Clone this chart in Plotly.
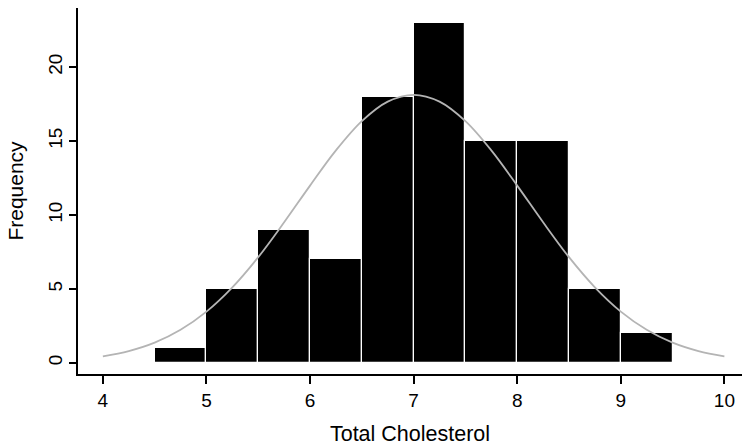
import plotly.graph_objects as go

# Histogram bins (left edges), width 0.5
bin_left = [4.5, 5.0, 5.5, 6.0, 6.5, 7.0, 7.5, 8.0, 8.5, 9.0]
counts = [1, 5, 9, 7, 18, 23, 15, 15, 5, 2]
bin_width = 0.5

# Overlaid normal curve
curve_x = [4.0, 4.25, 4.5, 4.75, 5.0, 5.25, 5.5, 5.75, 6.0, 6.25, 6.5, 6.75, 7.0,
           7.25, 7.5, 7.75, 8.0, 8.25, 8.5, 8.75, 9.0, 9.25, 9.5, 9.75, 10.0]
curve_y = [0.44, 0.80, 1.37, 2.24, 3.47, 5.11, 7.15, 9.51, 11.99, 14.37, 16.35, 17.67, 18.13,
           17.67, 16.35, 14.37, 11.99, 9.51, 7.15, 5.11, 3.47, 2.24, 1.37, 0.80, 0.44]

x_ticks = [4, 5, 6, 7, 8, 9, 10]
y_ticks = [0, 5, 10, 15, 20]

centers = [b + bin_width / 2 for b in bin_left]

fig = go.Figure()
fig.add_trace(go.Bar(
    x=centers, y=counts, width=bin_width,
    marker=dict(color="black", line=dict(color="white", width=1.2)),
    hoverinfo="x+y",
))
fig.add_trace(go.Scatter(
    x=curve_x, y=curve_y, mode="lines",
    line=dict(color="#b4b4b4", width=1.8, shape="spline"),
))

font = "Liberation Sans, Arial, Helvetica, sans-serif"
fig.update_layout(
    width=742, height=446,
    margin=dict(l=78, r=0, t=8, b=72),
    plot_bgcolor="white", paper_bgcolor="white",
    showlegend=False,
    bargap=0,
    font=dict(family=font, size=19, color="black"),
    xaxis=dict(
        range=[3.76, 10.17],
        tickvals=x_ticks,
        ticks="outside", ticklen=8, tickwidth=1.5, tickcolor="black",
        showline=True, linecolor="black", linewidth=1.5,
        showgrid=False, zeroline=False,
        tickfont=dict(size=19),
        title=dict(text="Total Cholesterol", font=dict(size=21.5), standoff=16),
    ),
    yaxis=dict(
        range=[-0.75, 24.0],
        tickvals=y_ticks,
        tickangle=-90,
        ticks="outside", ticklen=7, tickwidth=1.5, tickcolor="black",
        showline=True, linecolor="black", linewidth=1.5,
        showgrid=False, zeroline=False,
        tickfont=dict(size=19),
        title=dict(text="Frequency", font=dict(size=21), standoff=15),
    ),
)

fig.write_html(
    "out.html",
    config={"displayModeBar": False},
    post_script="document.body.style.margin='0';document.body.style.overflow='hidden';",
)
